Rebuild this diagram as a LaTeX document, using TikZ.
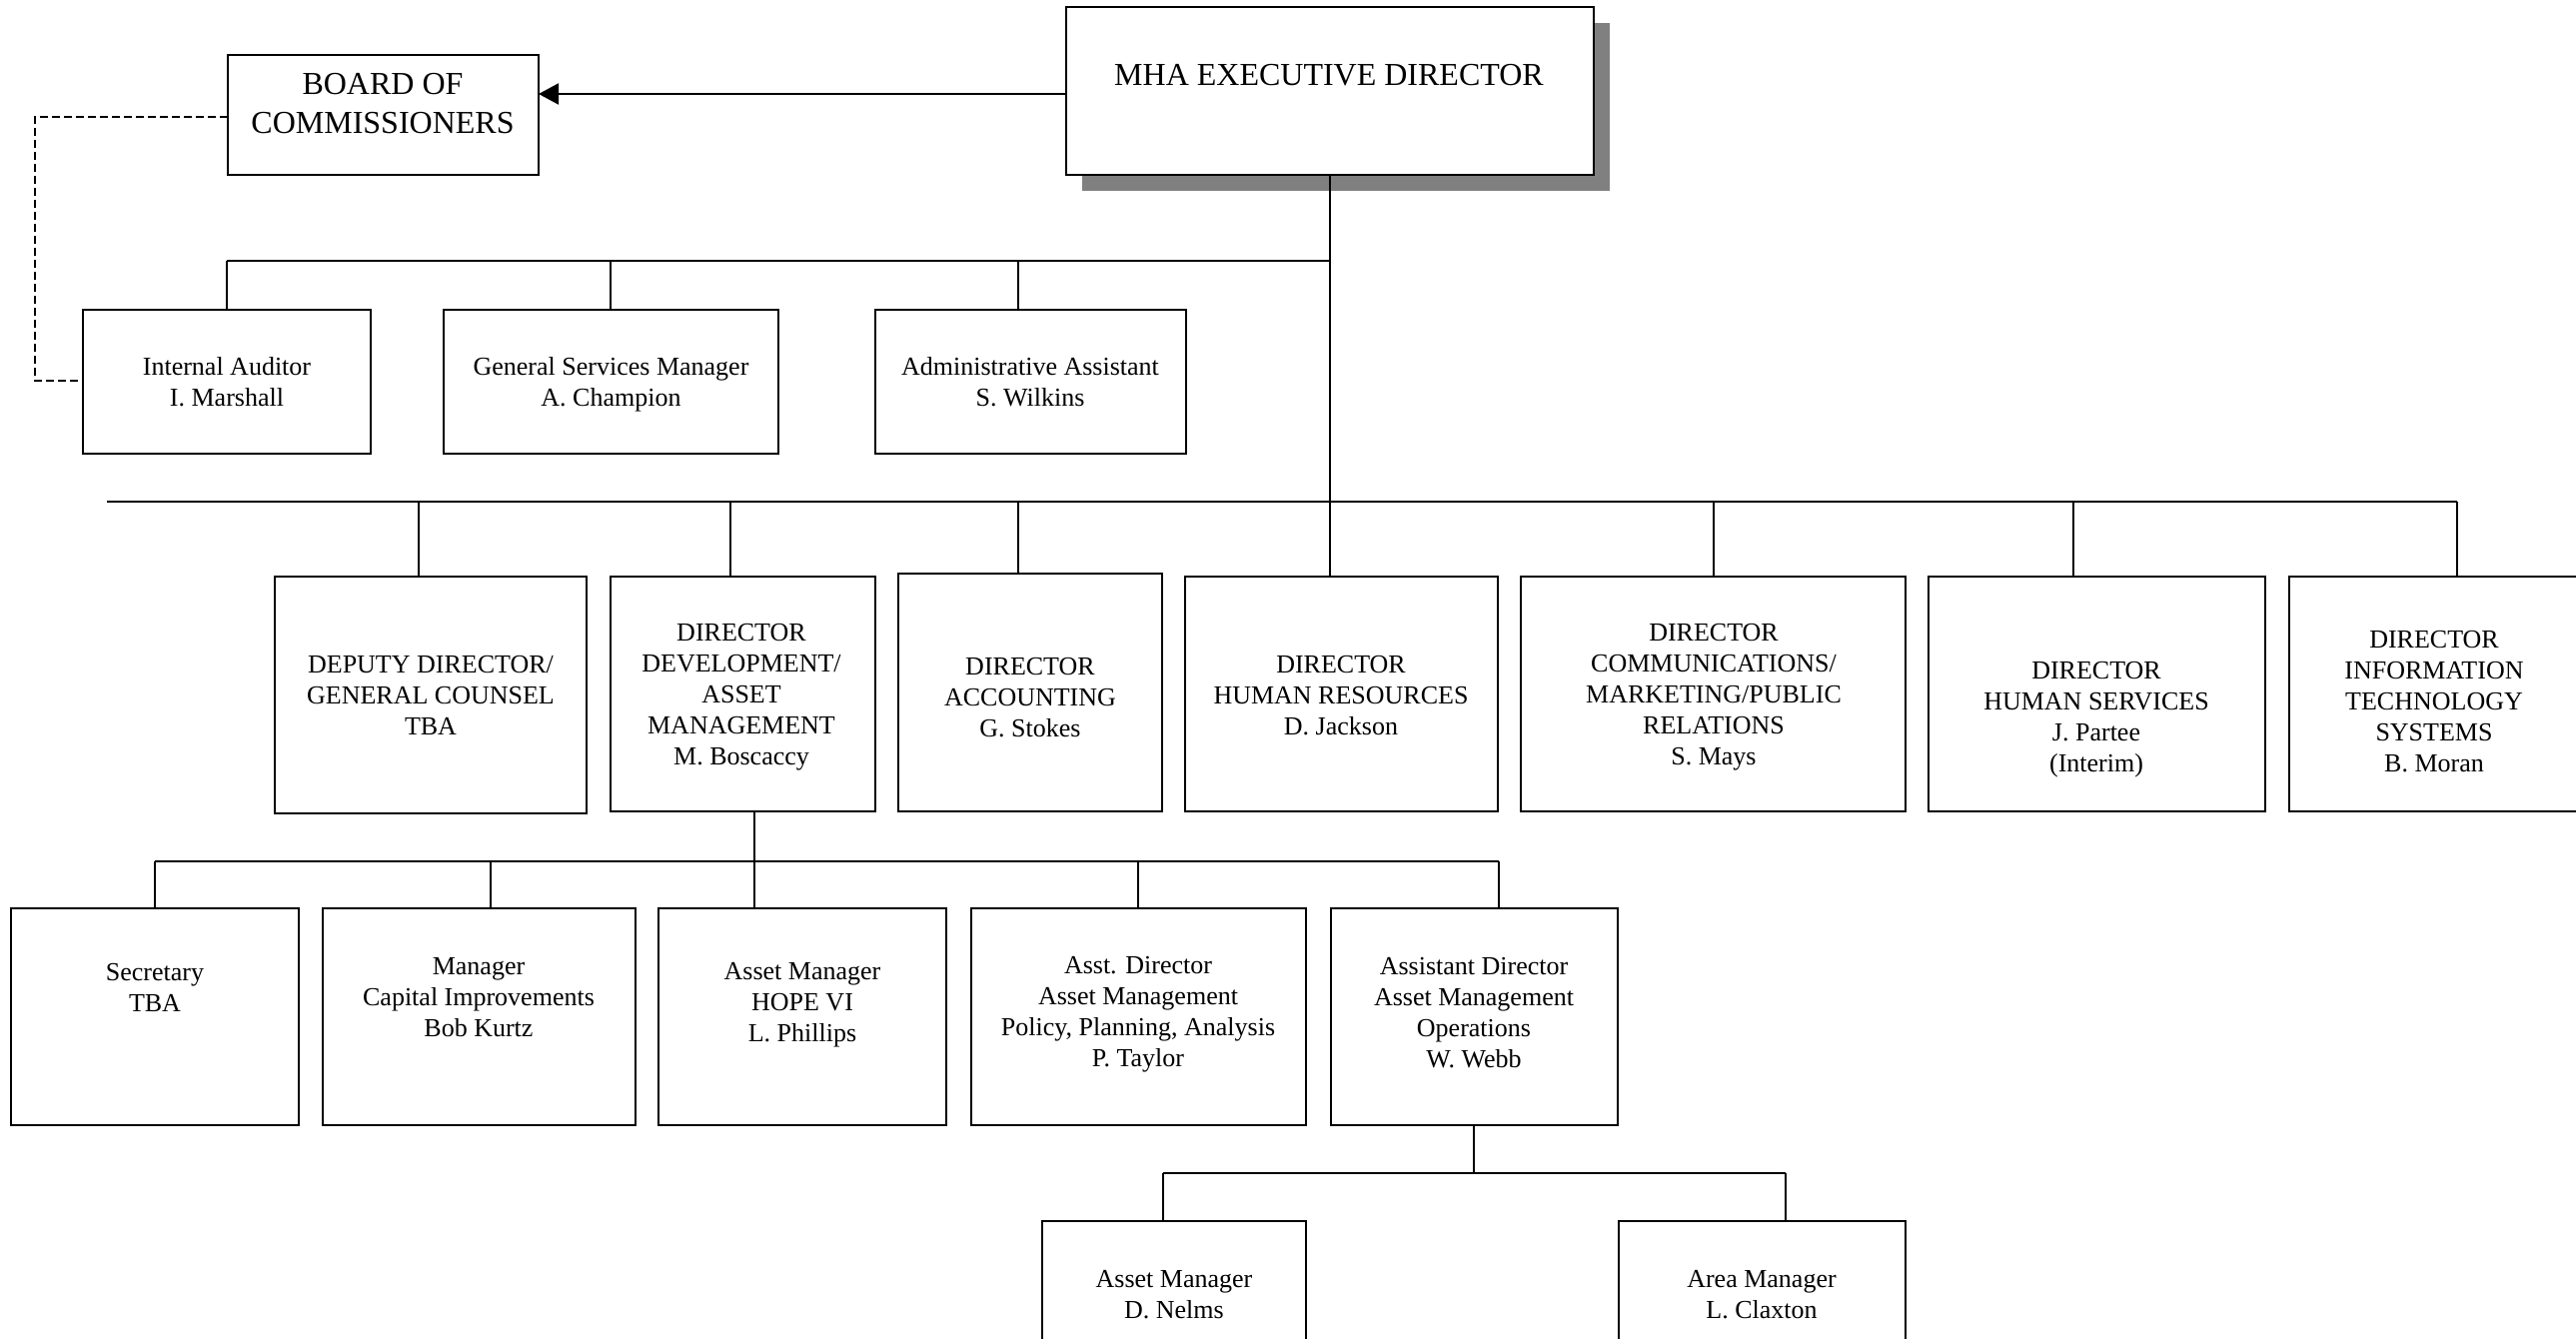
\documentclass[tikz,border=0pt]{standalone}
\usepackage{fontspec}
\setmainfont{Liberation Serif}
\usetikzlibrary{arrows.meta}
\tikzset{
  orgbx/.style={draw=black, line width=2pt, fill=white, inner sep=0pt, outer sep=0pt},
  txt/.style={align=center, inner sep=0pt, font=\fontsize{26}{31}\selectfont},
  bigtxt/.style={align=center, inner sep=0pt, font=\fontsize{32}{39}\selectfont},
  bus/.style={line width=2.5pt},
  drop/.style={line width=1.7pt},
  dashlink/.style={line width=2pt, dash pattern=on 8pt off 4pt},
  shadowbx/.style={fill=black!50, draw=none, inner sep=0pt, outer sep=0pt}
}
\newcommand\orgbox[6][orgbx]{\node[#1, minimum width={(#5-#3)*1pt}, minimum height={(#6-#4)*1pt}] (#2) at ({(#3+#5)/2},{(#4+#6)/2}) {};}
\begin{document}
\begin{tikzpicture}[x=1pt,y=-1pt]
\useasboundingbox (0,0) rectangle (2578,1339);
\clip (0,0) rectangle (2578,1339);

% top
\orgbox[shadowbx]{mhashadow}{1083}{23}{1611}{191}
\orgbox{mha}{1067}{7}{1595}{175}
\node[bigtxt] (mhat) at (1330,75) {MHA EXECUTIVE DIRECTOR};
\orgbox{board}{228}{55}{539}{175}
\node[bigtxt] (boardt) at (383,104) {BOARD OF\\COMMISSIONERS};

% row 1
\orgbox{aud}{83}{310}{371}{454}
\node[txt] (audt) at (227,382) {Internal Auditor\\I. Marshall};
\orgbox{gsm}{444}{310}{779}{454}
\node[txt] (gsmt) at (611.5,385) {General Services Manager\\A. Champion};
\orgbox{adm}{876}{310}{1187}{454}
\node[txt] (admt) at (1031,382) {Administrative Assistant\\S. Wilkins};

% row 2
\orgbox{dep}{275}{577}{587}{814}
\node[txt] (dept) at (431,696) {DEPUTY DIRECTOR/\\GENERAL COUNSEL\\TBA};
\orgbox{dev}{611}{577}{876}{812}
\node[txt] (devt) at (742,698) {DIRECTOR\\DEVELOPMENT/\\ASSET\\MANAGEMENT\\M. Boscaccy};
\orgbox{acc}{899}{574}{1163}{812}
\node[txt] (acct) at (1031,698) {DIRECTOR\\ACCOUNTING\\G. Stokes};
\orgbox{hr}{1186}{577}{1499}{812}
\node[txt] (hrt) at (1342,696) {DIRECTOR\\HUMAN RESOURCES\\D. Jackson};
\orgbox{com}{1522}{577}{1907}{812}
\node[txt] (comt) at (1715,698) {DIRECTOR\\COMMUNICATIONS/\\MARKETING/PUBLIC\\RELATIONS\\S. Mays};
\orgbox{hs}{1930}{577}{2267}{812}
\node[txt] (hst) at (2098,720) {DIRECTOR\\HUMAN SERVICES\\J. Partee\\(Interim)};
\orgbox{its}{2291}{577}{2581}{812}
\node[txt] (itst) at (2436,702) {DIRECTOR\\INFORMATION\\TECHNOLOGY\\SYSTEMS\\B. Moran};

% row 3
\orgbox{sec}{11}{909}{299}{1126}
\node[txt] (sect) at (155,988) {Secretary\\TBA};
\orgbox{cap}{323}{909}{636}{1126}
\node[txt] (capt) at (479,998) {Manager\\Capital Improvements\\Bob Kurtz};
\orgbox{hope}{659}{909}{947}{1126}
\node[txt] (hopet) at (803,1006) {Asset Manager\\HOPE VI\\L. Phillips};
\orgbox{ppa}{972}{909}{1307}{1126}
\node[txt] (ppat) at (1139,1015) {Asst. Director\\Asset Management\\Policy, Planning, Analysis\\P. Taylor};
\orgbox{ops}{1332}{909}{1619}{1126}
\node[txt] (opst) at (1475,1014) {Assistant Director\\Asset Management\\Operations\\W. Webb};

% row 4
\orgbox{nel}{1043}{1222}{1307}{1390}
\node[txt] (nelt) at (1175,1296) {Asset Manager\\D. Nelms};
\orgbox{cla}{1620}{1222}{1907}{1390}
\node[txt] (clat) at (1763,1296) {Area Manager\\L. Claxton};

% connectors: top
\draw[line width=2pt, -{Triangle[length=20pt,width=21pt]}] (mha.west |- 0,94) -- (board.east |- 0,94);
\coordinate (dashA) at (35,117);
\coordinate (dashB) at (35,381);
\draw[dashlink] (board.west |- dashA) -- (dashA) -- (dashB) -- (aud.west |- dashB);

% executive trunk
\coordinate (trunk1) at (1331,261);
\coordinate (trunk2) at (1331,502);
\draw[drop] (mha.south -| trunk1) -- (hr.north -| trunk1);
\draw[bus] (aud.north |- trunk1) -- (trunk1);
\foreach \n/\x in {aud/227, gsm/611, adm/1019}
  \draw[drop] (\x,261) -- (\n.north -| \x,0);

% director bus
\coordinate (busL) at (107,502);
\coordinate (busR) at (2459,502);
\draw[bus] (busL) -- (busR);
\foreach \n/\x in {dep/419, dev/731, acc/1019, com/1715, hs/2075, its/2459}
  \draw[drop] (\x,502) -- (\n.north -| \x,0);

% development bus
\coordinate (devd) at (755,862);
\draw[drop] (dev.south -| devd) -- (devd);
\draw[bus] (sec.north |- devd) -- (1500,862);
\foreach \n/\x in {sec/155, cap/491, hope/755, ppa/1139, ops/1500}
  \draw[drop] (\x,862) -- (\n.north -| \x,0);

% operations bus
\coordinate (opsd) at (1475,1174);
\draw[drop] (ops.south -| opsd) -- (opsd);
\draw[bus] (1164,1174) -- (1787,1174);
\foreach \n/\x in {nel/1164, cla/1787}
  \draw[drop] (\x,1174) -- (\n.north -| \x,0);
\end{tikzpicture}
\end{document}
